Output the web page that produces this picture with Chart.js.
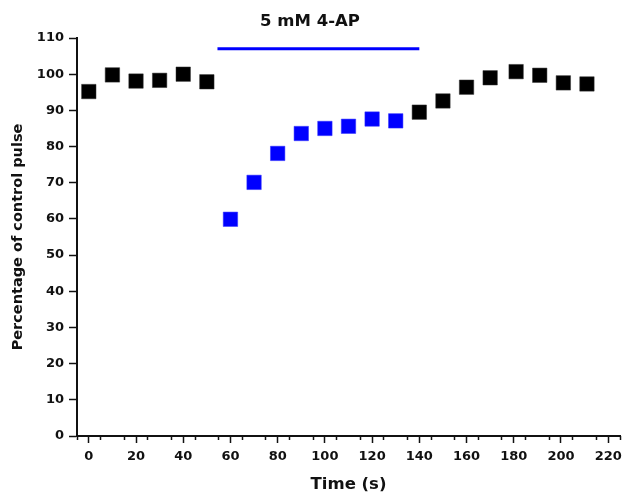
<!DOCTYPE html>
<html>
<head>
<meta charset="utf-8">
<script src="https://cdn.jsdelivr.net/npm/chart.js@4.4.1/dist/chart.umd.min.js"></script>
<style>
  html, body { margin: 0; padding: 0; background: #fff; }
  #wrap { width: 622px; height: 495px; }
</style>
</head>
<body>
<div id="wrap"><canvas id="chart"></canvas></div>
<script>
// control (black) and 4-AP (blue) pulses, % of control
const controlTimes = [0, 10, 20, 30, 40, 50, 140, 150, 160, 170, 181, 191, 201, 211];
const controlValues = [95.2, 99.8, 98.1, 98.3, 100.0, 97.9, 89.5, 92.6, 96.4, 99.0, 100.7, 99.7, 97.6, 97.3];
const drugTimes = [60, 70, 80, 90, 100, 110, 120, 130];
const drugValues = [59.9, 70.1, 78.1, 83.6, 85.0, 85.6, 87.6, 87.1];
// application bar for 4-AP
const barTimes = [54.5, 140];
const barLevel = [107, 107];

const TEXT = '#111';
const FONT = 'DejaVu Sans';

const toPoints = (xs, ys) => xs.map((x, i) => ({ x, y: ys[i] }));

const ctx = document.getElementById('chart');
const chart = new Chart(ctx, {
  type: 'scatter',
  data: {
    datasets: [
      {
        label: 'control',
        data: toPoints(controlTimes, controlValues),
        pointStyle: 'rect',
        pointRadius: 10.2,
        backgroundColor: '#000',
        borderColor: '#333',
        borderWidth: 0.5
      },
      {
        label: '4-AP',
        data: toPoints(drugTimes, drugValues),
        pointStyle: 'rect',
        pointRadius: 10.2,
        backgroundColor: '#0000ff',
        borderColor: '#3333ff',
        borderWidth: 0.5
      },
      {
        type: 'line',
        label: 'bar',
        data: toPoints(barTimes, barLevel),
        borderColor: '#0000ff',
        borderWidth: 3,
        pointRadius: 0,
        showLine: true
      }
    ]
  },
  options: {
    responsive: true,
    maintainAspectRatio: false,
    animation: false,
    layout: { padding: { top: 0, left: 0, bottom: 0, right: 2 }, autoPadding: false },
    plugins: {
      legend: { display: false },
      tooltip: { enabled: false },
      title: {
        display: true,
        text: '5 mM 4-AP',
        color: TEXT,
        font: { family: FONT, size: 16.5, weight: 'bold' },
        padding: { top: 12, bottom: 6.2 }
      }
    },
    scales: {
      x2: {
        type: 'linear',
        position: 'bottom',
        weight: 0,
        min: -5,
        max: 225,
        border: { display: false },
        grid: { drawOnChartArea: false, tickLength: 4, tickWidth: 1.5, tickColor: TEXT },
        ticks: { stepSize: 10, includeBounds: false, display: false },
        afterFit: (s) => { s.height = 0; s.paddingRight = 0; s.paddingLeft = 0; }
      },
      x: {
        type: 'linear',
        position: 'bottom',
        weight: 1,
        min: -5,
        max: 225,
        border: { display: true, color: TEXT, width: 2 },
        grid: { drawOnChartArea: false, tickLength: 7, tickWidth: 1.5, tickColor: TEXT },
        ticks: {
          stepSize: 20,
          includeBounds: false,
          color: TEXT,
          padding: 6,
          maxRotation: 0,
          font: { family: FONT, size: 13, weight: 'bold' }
        },
        title: {
          display: true,
          text: 'Time (s)',
          color: TEXT,
          font: { family: FONT, size: 16.5, weight: 'bold' },
          padding: { top: 12, bottom: 0 }
        },
        afterFit: (s) => { s.height = 59; s.paddingRight = 0; s.paddingLeft = 0; }
      },
      y: {
        type: 'linear',
        min: 0,
        max: 110,
        border: { display: true, color: TEXT, width: 2 },
        grid: { drawOnChartArea: false, tickLength: 8, tickWidth: 1.5, tickColor: TEXT },
        ticks: {
          stepSize: 10,
          color: TEXT,
          padding: 5,
          font: { family: FONT, size: 13, weight: 'bold' }
        },
        title: {
          display: true,
          text: 'Percentage of control pulse',
          color: TEXT,
          font: { family: FONT, size: 14.5, weight: 'bold' },
          padding: { top: 9.6, bottom: 0 }
        },
        afterFit: (s) => { s.width = 77; }
      }
    }
  }
});
</script>
</body>
</html>
